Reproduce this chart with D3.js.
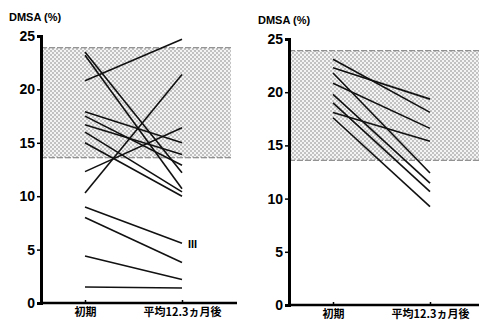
<!DOCTYPE html>
<html>
<head>
<meta charset="utf-8">
<script src="https://cdn.jsdelivr.net/npm/d3@7"></script>
<style>
  body { margin: 0; background: #fff; }
  svg { display: block; }
</style>
</head>
<body>
<div id="chart"></div>
<script>
// Data
const periods = ['初期', '平均12.3ヵ月後'];
const yTicks = [0, 5, 10, 15, 20, 25];
const normalRange = [13.6, 23.9];

// left panel: [initial, after]
const leftStart = [20.8, 10.3, 12.3, 23.5, 23.2, 17.9, 17.5, 16.7, 16.0, 15.0, 9.0, 8.0, 4.4, 1.5];
const leftEnd   = [24.7, 21.4, 16.4, 12.2, 10.7, 15.0, 12.9, 13.9, 10.4, 10.0, 5.6, 3.8, 2.2, 1.4];

// right panel
const rightStart = [23.1, 22.3, 21.8, 20.85, 19.8, 19.0, 18.1, 17.6];
const rightEnd   = [18.1, 19.35, 12.4, 16.6, 11.45, 10.65, 15.4, 9.25];

const svg = d3.select('#chart')
    .append('svg')
    .attr('width', 479)
    .attr('height', 324);

// dot screen for the normal range band
const pat = svg.append('defs')
    .append('pattern')
    .attr('id', 'dots')
    .attr('width', 4)
    .attr('height', 4)
    .attr('patternUnits', 'userSpaceOnUse');
pat.append('rect').attr('width', 4).attr('height', 4).attr('fill', '#f4f4f4');
pat.append('circle').attr('cx', 1).attr('cy', 1).attr('r', 0.75).attr('fill', '#777');
pat.append('circle').attr('cx', 3).attr('cy', 3).attr('r', 0.75).attr('fill', '#777');

function drawPanel(opt, starts, ends) {
    const y = d3.scaleLinear().domain([0, 25]).range([opt.y0, opt.y25]);
    const x = d3.scalePoint().domain(periods).range([opt.xa, opt.xb]);
    const g = svg.append('g');

    // shaded band
    g.append('rect')
        .attr('x', opt.axisX)
        .attr('y', y(normalRange[1]))
        .attr('width', opt.bandRight - opt.axisX)
        .attr('height', y(normalRange[0]) - y(normalRange[1]))
        .attr('fill', 'url(#dots)');
    [normalRange[0], normalRange[1]].forEach(v => {
        g.append('line')
            .attr('x1', opt.axisX).attr('x2', opt.bandRight)
            .attr('y1', y(v)).attr('y2', y(v))
            .attr('stroke', '#777')
            .attr('stroke-width', 1)
            .attr('stroke-dasharray', '6,2');
    });

    // lines
    const line = d3.line().x(d => x(d[0])).y(d => y(d[1]));
    starts.forEach((s, i) => {
        g.append('path')
            .attr('d', line([[periods[0], s], [periods[1], ends[i]]]))
            .attr('fill', 'none')
            .attr('stroke', '#111')
            .attr('stroke-width', 1.6);
    });

    // y axis
    const ya = g.append('g')
        .attr('transform', `translate(${opt.axisX},0)`)
        .call(d3.axisLeft(y).tickValues(yTicks).tickSize(4).tickPadding(2));
    ya.select('.domain').attr('stroke', '#000').attr('stroke-width', 3);
    ya.selectAll('.tick line').attr('stroke', '#000').attr('stroke-width', 1.5);
    ya.selectAll('text')
        .style('font-family', '"Liberation Sans Narrow", "Liberation Sans", sans-serif')
        .style('font-weight', 'bold')
        .style('font-size', '14px')
        .attr('fill', '#000');

    // x axis baseline
    g.append('line')
        .attr('x1', opt.axisX).attr('x2', opt.xRight)
        .attr('y1', y(0)).attr('y2', y(0))
        .attr('stroke', '#000')
        .attr('stroke-width', 2.5);
    const xa = g.append('g')
        .attr('transform', `translate(0,${y(0)})`)
        .call(d3.axisBottom(x).tickSize(-3).tickPadding(10));
    xa.select('.domain').remove();
    xa.selectAll('.tick line').attr('stroke', '#000').attr('stroke-width', 1.5);
    xa.selectAll('text')
        .style('font-family', '"Noto Sans CJK JP", sans-serif')
        .style('font-weight', 'bold')
        .style('font-size', '11px')
        .attr('fill', '#000')
        .attr('dy', '0.25em');

    // axis title
    g.append('text')
        .attr('x', opt.titleX)
        .attr('y', opt.titleY)
        .style('font-family', '"Liberation Sans", sans-serif')
        .style('font-weight', 'bold')
        .style('font-size', '11px')
        .text('DMSA (%)');
    return { x, y, g };
}

const left = drawPanel({
    axisX: 41, y0: 303, y25: 36, xa: 85, xb: 182,
    bandRight: 231, xRight: 237, titleX: 9, titleY: 21
}, leftStart, leftEnd);

drawPanel({
    axisX: 289, y0: 305, y25: 39, xa: 333, xb: 430,
    bandRight: 479, xRight: 479, titleX: 258, titleY: 24
}, rightStart, rightEnd);

// grade label
left.g.append('text')
    .attr('x', left.x(periods[1]) + 6)
    .attr('y', left.y(5.6) + 5)
    .style('font-family', '"Liberation Sans Narrow", sans-serif')
    .style('font-weight', 'bold')
    .style('font-size', '11px')
    .text('III');
</script>
</body>
</html>
